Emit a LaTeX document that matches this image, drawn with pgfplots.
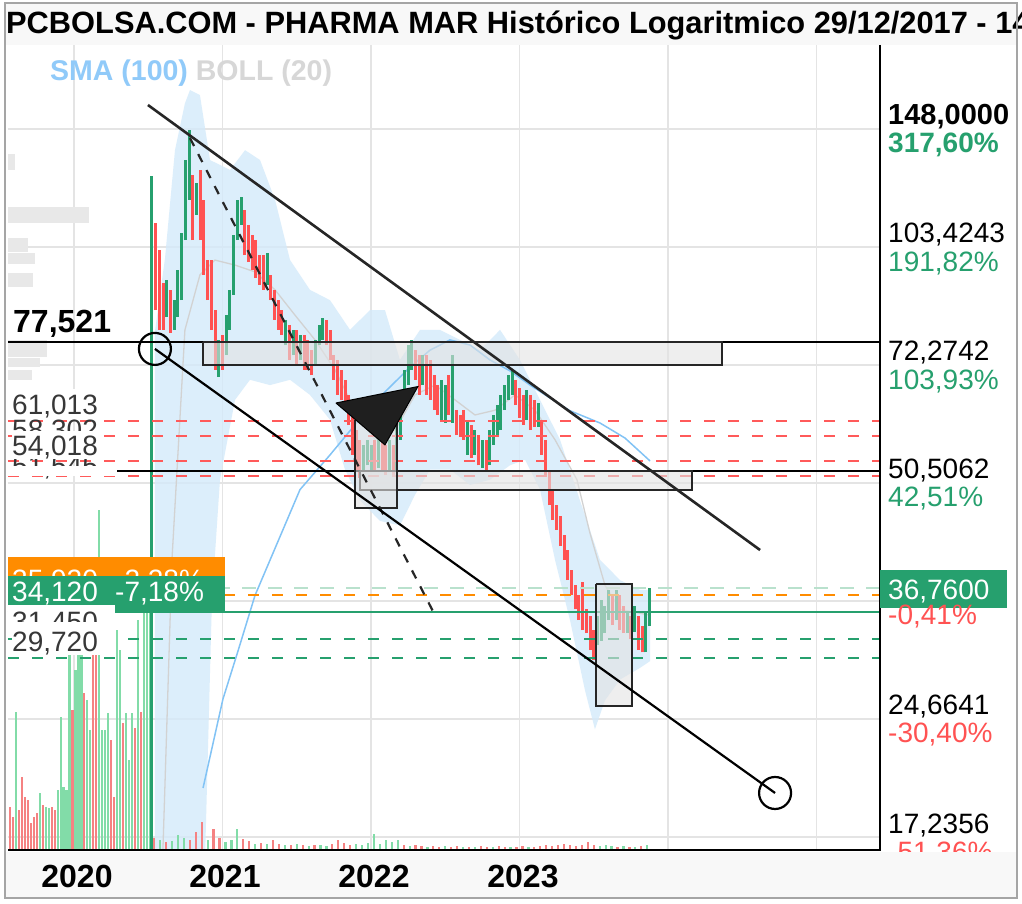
\documentclass[border=0pt]{standalone}
\usepackage{pgfplots}
\pgfplotsset{compat=1.18}
\usepackage{fontspec}
\setmainfont{Liberation Sans}
\definecolor{cg}{RGB}{38,160,110}
\definecolor{cr}{RGB}{255,82,82}
\definecolor{vg}{RGB}{130,220,168}
\definecolor{vr}{RGB}{245,130,130}
\definecolor{bandc}{RGB}{212,234,250}
\definecolor{smac}{RGB}{130,195,245}
\definecolor{midc}{RGB}{210,210,210}
\definecolor{gridc}{RGB}{228,228,228}
\definecolor{dashred}{RGB}{255,90,90}
\definecolor{orng}{RGB}{255,140,0}
\definecolor{labg}{RGB}{55,55,55}
\definecolor{profc}{RGB}{232,232,232}
\definecolor{barbg}{RGB}{248,248,248}
\definecolor{framec}{RGB}{165,165,165}
\definecolor{curg}{RGB}{185,225,205}
\definecolor{legb}{RGB}{144,202,249}
\definecolor{legg}{RGB}{215,215,215}
\newcommand{\fs}[1]{\fontsize{#1pt}{#1pt}\selectfont}
\pgfplotsset{base/.style={at={(8pt,54pt)}, anchor=south west, scale only axis,
  width=872pt, height=805pt, xmin=2019.5556, xmax=2025.4276}}
\tikzset{lab/.style={anchor=base west, inner sep=0pt, font=\fs{28}}}

\begin{document}
\begin{tikzpicture}
\path[use as bounding box] (0,0) rectangle (1022pt,904pt);
\begin{scope}[x=1pt,y=-1pt,yshift=904pt]
\fill[white] (0,0) rectangle (1022,904);
\fill[barbg] (5,3) rectangle (1017,45);
\end{scope}

% ---------- axis A: grid, profile, bands, averages
\begin{axis}[base, ymode=log, ymin=16.566, ymax=191.06,
  axis line style={draw=none}, tick style={draw=none},
  xticklabels={}, yticklabels={},
  xtick={2020,2021,2022,2023,2024,2025},
  ytick={17.2356,24.6641,35.2944,50.5062,72.2742,103.4243,148},
  grid=major, grid style={gridc, line width=1.5pt}]
% volume profile
\addplot[fill=profc, draw=none] coordinates {(2019.5556,111.2)(2020.101,111.2)(2020.101,116.8)(2019.5556,116.8)};
\addplot[fill=profc, draw=none] coordinates {(2019.5556,101.8)(2019.690,101.8)(2019.690,106.3)(2019.5556,106.3)};
\addplot[fill=profc, draw=none] coordinates {(2019.5556,98.3)(2019.737,98.3)(2019.737,101.6)(2019.5556,101.6)};
\addplot[fill=profc, draw=none] coordinates {(2019.5556,91.6)(2019.723,91.6)(2019.723,95.6)(2019.5556,95.6)};
\addplot[fill=profc, draw=none] coordinates {(2019.5556,74.0)(2019.818,74.0)(2019.818,78.0)(2019.5556,78.0)};
\addplot[fill=profc, draw=none] coordinates {(2019.5556,71.8)(2019.771,71.8)(2019.771,73.8)(2019.5556,73.8)};
\addplot[fill=profc, draw=none] coordinates {(2019.5556,69.1)(2019.717,69.1)(2019.717,71.2)(2019.5556,71.2)};
\addplot[fill=profc, draw=none] coordinates {(2019.5556,130.7)(2019.602,130.7)(2019.602,137.2)(2019.5556,137.2)};
% Bollinger band
\addplot[fill=bandc, fill opacity=0.8, draw=none] coordinates {
(2020.545,80)(2020.613,100)(2020.680,138.8)(2020.747,160)(2020.781,166.6)(2020.848,164.1)
(2020.916,134.7)(2021.051,130.7)(2021.152,138.8)(2021.253,134.7)(2021.354,119.3)(2021.455,99.4)
(2021.589,90.8)(2021.724,88.0)(2021.859,80.4)(2021.993,85.4)(2022.094,85.4)(2022.195,73.4)
(2022.330,80.4)(2022.465,80.4)(2022.599,78.0)(2022.734,75.6)(2022.869,80.4)(2023.003,73.4)
(2023.138,65.0)(2023.273,57.6)(2023.407,47.9)(2023.542,40.0)(2023.677,37.6)(2023.811,36.5)(2023.879,36.5)
(2023.879,29.4)(2023.811,28.8)(2023.677,27.8)(2023.576,26.1)(2023.508,23.9)(2023.441,26.9)
(2023.340,33.3)(2023.239,40.0)(2023.138,49.5)(2023.037,54.2)(2022.936,53.3)(2022.801,51.0)
(2022.667,50.2)(2022.532,52.6)(2022.397,52.6)(2022.296,48.7)(2022.195,44.4)(2022.061,45.0)
(2021.926,47.9)(2021.825,52.6)(2021.724,61.2)(2021.589,66.0)(2021.455,69.1)(2021.320,68.0)
(2021.185,69.1)(2021.084,65.0)(2020.983,51.0)(2020.929,35.4)(2020.882,16.0)(2020.545,16.0)};
% Bollinger middle
\addplot[midc, line width=1.3pt] coordinates {
(2020.599,16.6)(2020.660,40.1)(2020.747,80.4)(2020.848,95.0)(2020.949,99.4)(2021.084,97.9)
(2021.219,95.9)(2021.354,90.8)(2021.488,84.1)(2021.623,78.0)(2021.758,71.2)(2021.892,63.0)
(2022.027,57.6)(2022.162,59.3)(2022.296,66.0)(2022.431,68.0)(2022.566,65.0)(2022.700,62.1)
(2022.835,63.0)(2022.970,66.0)(2023.104,63.0)(2023.239,57.6)(2023.387,51.0)(2023.474,43.4)
(2023.576,37.0)(2023.677,34.4)(2023.879,33.8)};
% SMA 100
\addplot[smac, line width=1.5pt] coordinates {
(2020.869,20.0)(2021.003,26.2)(2021.104,30.3)(2021.219,35.9)(2021.367,42.0)(2021.522,49.5)
(2021.724,55.0)(2021.926,61.4)(2022.094,66.6)(2022.263,71.8)(2022.397,75.6)(2022.532,78.0)
(2022.667,76.8)(2022.801,73.4)(2022.936,71.0)(2023.071,68.0)(2023.205,65.4)(2023.340,62.9)
(2023.542,60.6)(2023.710,57.9)(2023.879,54.0)};
\end{axis}

% ---------- axis B: volume
\begin{axis}[base, ymin=0, ymax=805, hide axis]
\addplot[ycomb, vg, line width=2.2pt] coordinates {
(2019.61,138)(2019.77,57)(2019.81,43)(2019.83,42)(2019.89,60)(2019.91,133)(2019.93,63)(2019.95,60)
(2019.97,250)(2020.01,180)(2020.03,230)(2020.05,200)(2020.09,150)(2020.11,120)(2020.17,340)
(2020.19,120)(2020.21,120)(2020.23,137)(2020.29,220)(2020.31,200)(2020.35,137)(2020.37,90)
(2020.39,137)(2020.43,230)(2020.47,280)(2020.49,260)(2020.51,290)
(2020.58,10)(2020.66,9)(2020.70,15)(2020.74,12)(2020.90,10)(2021.02,8)(2021.06,10)(2021.10,21)
(2021.22,6)(2021.30,6)(2021.42,5)(2021.50,6)(2021.58,4)(2021.66,5)(2021.70,4)(2021.90,6)
(2021.94,5)(2021.98,7)(2022.02,16)(2022.06,6)(2022.10,10)(2022.14,8)(2022.18,10)(2022.26,4)
(2022.38,3)(2022.50,4)(2022.62,3)(2022.70,3)(2022.82,3)(2022.94,3)(2023.06,3)(2023.54,4)
(2023.58,5)(2023.62,4)(2023.70,4)(2023.78,3)(2023.86,5)};
\addplot[ycomb, vr, line width=2.2pt] coordinates {
(2019.57,43)(2019.59,33)(2019.63,40)(2019.65,73)(2019.67,53)(2019.69,50)(2019.71,27)(2019.73,33)
(2019.75,37)(2019.79,45)(2019.85,43)(2019.87,40)(2019.99,140)(2020.07,157)(2020.13,260)
(2020.15,200)(2020.25,110)(2020.27,53)(2020.33,127)(2020.41,122)(2020.45,138)
(2020.54,12)(2020.62,8)(2020.78,10)(2020.82,18)(2020.86,28)(2020.94,21)(2020.98,12)(2021.14,11)
(2021.18,9)(2021.26,7)(2021.34,10)(2021.38,6)(2021.46,5)(2021.54,5)(2021.62,5)(2021.74,6)
(2021.78,10)(2021.82,7)(2021.86,5)(2022.22,5)(2022.30,5)(2022.34,4)(2022.42,4)(2022.46,3)
(2022.54,3)(2022.58,4)(2022.66,3)(2022.74,4)(2022.78,3)(2022.86,4)(2022.90,3)(2022.98,3)
(2023.02,4)(2023.10,3)(2023.14,4)(2023.18,5)(2023.22,4)(2023.26,5)(2023.30,6)(2023.34,5)
(2023.38,4)(2023.42,5)(2023.46,8)(2023.50,5)(2023.66,3)(2023.74,3)(2023.82,4)};
\end{axis}

% ---------- axis C: prices and drawings
\begin{axis}[base, ymode=log, ymin=16.566, ymax=191.06, hide axis]
% green candles
\addplot[cg, line width=3pt, unbounded coords=jump] coordinates {
(2020.525,16)(2020.525,128.3)(2020.525,nan)
(2020.625,83.6)(2020.625,93.6)(2020.625,nan)
(2020.675,80.4)(2020.675,88.0)(2020.675,nan)
(2020.700,83.6)(2020.700,96.4)(2020.700,nan)
(2020.725,88.0)(2020.725,107.9)(2020.725,nan)
(2020.750,105.6)(2020.750,134.7)(2020.750,nan)
(2020.775,119.3)(2020.775,147.6)(2020.775,nan)
(2020.825,114.0)(2020.825,125.6)(2020.825,nan)
(2020.975,69.7)(2020.975,78.0)(2020.975,nan)
(2021.025,74.5)(2021.025,84.1)(2021.025,nan)
(2021.050,80.4)(2021.050,90.8)(2021.050,nan)
(2021.075,89.4)(2021.075,107.3)(2021.075,nan)
(2021.100,105.6)(2021.100,119.3)(2021.100,nan)
(2021.125,110.6)(2021.125,120.4)(2021.125,nan)
(2021.300,92.2)(2021.300,101.6)(2021.300,nan)
(2021.425,76.8)(2021.425,82.9)(2021.425,nan)
(2021.475,74.5)(2021.475,80.4)(2021.475,nan)
(2021.525,73.4)(2021.525,79.2)(2021.525,nan)
(2021.625,72.3)(2021.625,78.0)(2021.625,nan)
(2021.650,76.8)(2021.650,81.6)(2021.650,nan)
(2021.675,78.0)(2021.675,83.4)(2021.675,nan)
(2021.950,52.5)(2021.950,56.7)(2021.950,nan)
(2021.975,53.3)(2021.975,57.6)(2021.975,nan)
(2022.000,52.5)(2022.000,56.7)(2022.000,nan)
(2022.050,52.9)(2022.050,58.4)(2022.050,nan)
(2022.125,52.5)(2022.125,57.6)(2022.125,nan)
(2022.175,52.5)(2022.175,59.9)(2022.175,nan)
(2022.200,57.6)(2022.200,65.0)(2022.200,nan)
(2022.225,64.0)(2022.225,71.2)(2022.225,nan)
(2022.250,68.0)(2022.250,76.8)(2022.250,nan)
(2022.275,71.2)(2022.275,78.0)(2022.275,nan)
(2022.350,68.0)(2022.350,74.5)(2022.350,nan)
(2022.475,61.2)(2022.475,69.1)(2022.475,nan)
(2022.500,60.6)(2022.500,68.0)(2022.500,nan)
(2022.550,60.6)(2022.550,74.5)(2022.550,nan)
(2022.650,55.0)(2022.650,61.2)(2022.650,nan)
(2022.700,55.0)(2022.700,59.3)(2022.700,nan)
(2022.750,52.9)(2022.750,57.6)(2022.750,nan)
(2022.800,53.3)(2022.800,59.3)(2022.800,nan)
(2022.825,56.7)(2022.825,62.1)(2022.825,nan)
(2022.850,58.4)(2022.850,64.0)(2022.850,nan)
(2022.875,59.3)(2022.875,66.0)(2022.875,nan)
(2022.900,63.0)(2022.900,68.0)(2022.900,nan)
(2022.925,65.0)(2022.925,70.1)(2022.925,nan)
(2022.950,66.0)(2022.950,71.2)(2022.950,nan)
(2023.050,61.2)(2023.050,67.0)(2023.050,nan)
(2023.125,59.9)(2023.125,64.4)(2023.125,nan)
(2023.525,30.9)(2023.525,33.7)(2023.525,nan)
(2023.550,31.3)(2023.550,35.4)(2023.550,nan)
(2023.575,32.0)(2023.575,34.8)(2023.575,nan)
(2023.600,33.3)(2023.600,36.5)(2023.600,nan)
(2023.650,33.3)(2023.650,36.5)(2023.650,nan)
(2023.725,32.0)(2023.725,34.2)(2023.725,nan)
(2023.775,32.1)(2023.775,34.8)(2023.775,nan)
(2023.850,30.2)(2023.850,34.2)(2023.850,nan)
(2023.875,32.7)(2023.875,36.7)(2023.875,nan)};
% red candles
\addplot[cr, line width=3pt, unbounded coords=jump] coordinates {
(2020.550,85.4)(2020.550,111.2)(2020.550,nan)
(2020.575,80.4)(2020.575,102.5)(2020.575,nan)
(2020.600,80.4)(2020.600,92.7)(2020.600,nan)
(2020.650,79.7)(2020.650,90.8)(2020.650,nan)
(2020.800,105.6)(2020.800,128.7)(2020.800,nan)
(2020.850,105.6)(2020.850,130.7)(2020.850,nan)
(2020.875,95.0)(2020.875,119.3)(2020.875,nan)
(2020.900,88.0)(2020.900,99.4)(2020.900,nan)
(2020.925,80.4)(2020.925,99.4)(2020.925,nan)
(2020.950,71.2)(2020.950,85.4)(2020.950,nan)
(2021.000,71.2)(2021.000,79.2)(2021.000,nan)
(2021.150,100.9)(2021.150,115.7)(2021.150,nan)
(2021.175,98.8)(2021.175,110.6)(2021.175,nan)
(2021.200,96.4)(2021.200,107.3)(2021.200,nan)
(2021.225,94.1)(2021.225,105.6)(2021.225,nan)
(2021.250,92.2)(2021.250,100.9)(2021.250,nan)
(2021.275,90.8)(2021.275,100.9)(2021.275,nan)
(2021.325,88.0)(2021.325,95.0)(2021.325,nan)
(2021.350,82.9)(2021.350,90.8)(2021.350,nan)
(2021.375,80.4)(2021.375,88.0)(2021.375,nan)
(2021.400,79.2)(2021.400,85.4)(2021.400,nan)
(2021.450,73.4)(2021.450,81.6)(2021.450,nan)
(2021.500,72.3)(2021.500,80.4)(2021.500,nan)
(2021.550,71.2)(2021.550,79.2)(2021.550,nan)
(2021.575,71.2)(2021.575,78.0)(2021.575,nan)
(2021.600,70.1)(2021.600,75.6)(2021.600,nan)
(2021.700,76.8)(2021.700,82.9)(2021.700,nan)
(2021.725,73.4)(2021.725,80.4)(2021.725,nan)
(2021.750,69.1)(2021.750,74.5)(2021.750,nan)
(2021.775,66.0)(2021.775,73.4)(2021.775,nan)
(2021.800,65.0)(2021.800,71.2)(2021.800,nan)
(2021.825,63.0)(2021.825,69.1)(2021.825,nan)
(2021.850,60.2)(2021.850,66.0)(2021.850,nan)
(2021.875,55.0)(2021.875,62.1)(2021.875,nan)
(2021.900,52.5)(2021.900,59.3)(2021.900,nan)
(2021.925,51.3)(2021.925,57.6)(2021.925,nan)
(2022.025,52.5)(2022.025,57.6)(2022.025,nan)
(2022.075,52.5)(2022.075,57.6)(2022.075,nan)
(2022.100,51.7)(2022.100,56.7)(2022.100,nan)
(2022.150,51.7)(2022.150,56.7)(2022.150,nan)
(2022.300,69.1)(2022.300,75.6)(2022.300,nan)
(2022.325,66.0)(2022.325,74.5)(2022.325,nan)
(2022.375,66.0)(2022.375,74.5)(2022.375,nan)
(2022.400,65.0)(2022.400,73.4)(2022.400,nan)
(2022.425,63.0)(2022.425,70.1)(2022.425,nan)
(2022.450,62.1)(2022.450,68.0)(2022.450,nan)
(2022.525,62.1)(2022.525,70.1)(2022.525,nan)
(2022.575,58.4)(2022.575,63.0)(2022.575,nan)
(2022.600,58.1)(2022.600,62.1)(2022.600,nan)
(2022.625,57.6)(2022.625,63.0)(2022.625,nan)
(2022.675,54.5)(2022.675,60.2)(2022.675,nan)
(2022.725,53.3)(2022.725,58.4)(2022.725,nan)
(2022.775,52.5)(2022.775,57.6)(2022.775,nan)
(2022.975,64.0)(2022.975,69.1)(2022.975,nan)
(2023.000,61.6)(2023.000,67.4)(2023.000,nan)
(2023.025,60.2)(2023.025,66.0)(2023.025,nan)
(2023.075,59.3)(2023.075,66.0)(2023.075,nan)
(2023.100,59.9)(2023.100,65.0)(2023.100,nan)
(2023.150,55.0)(2023.150,61.2)(2023.150,nan)
(2023.175,51.7)(2023.175,57.6)(2023.175,nan)
(2023.200,47.2)(2023.200,52.5)(2023.200,nan)
(2023.225,45.1)(2023.225,49.5)(2023.225,nan)
(2023.250,43.8)(2023.250,47.2)(2023.250,nan)
(2023.275,41.7)(2023.275,45.7)(2023.275,nan)
(2023.300,40.0)(2023.300,43.1)(2023.300,nan)
(2023.325,37.6)(2023.325,41.2)(2023.325,nan)
(2023.350,35.9)(2023.350,38.8)(2023.350,nan)
(2023.375,34.4)(2023.375,37.0)(2023.375,nan)
(2023.400,33.3)(2023.400,35.9)(2023.400,nan)
(2023.425,32.3)(2023.425,37.4)(2023.425,nan)
(2023.450,32.0)(2023.450,34.4)(2023.450,nan)
(2023.475,30.4)(2023.475,33.7)(2023.475,nan)
(2023.500,29.5)(2023.500,32.3)(2023.500,nan)
(2023.625,32.8)(2023.625,35.9)(2023.625,nan)
(2023.675,32.3)(2023.675,35.9)(2023.675,nan)
(2023.700,32.0)(2023.700,34.8)(2023.700,nan)
(2023.750,31.4)(2023.750,33.7)(2023.750,nan)
(2023.800,30.4)(2023.800,33.7)(2023.800,nan)
(2023.825,30.2)(2023.825,32.7)(2023.825,nan)};
% horizontal levels
\addplot[dashred, line width=2pt, dash pattern=on 11pt off 13pt] coordinates {(2019.5556,61.013)(2025.4276,61.013)};
\addplot[dashred, line width=2pt, dash pattern=on 11pt off 13pt] coordinates {(2019.5556,58.302)(2025.4276,58.302)};
\addplot[dashred, line width=2pt, dash pattern=on 11pt off 13pt] coordinates {(2019.5556,54.018)(2025.4276,54.018)};
\addplot[dashred, line width=2pt, dash pattern=on 11pt off 13pt] coordinates {(2019.5556,51.545)(2025.4276,51.545)};
\addplot[curg, line width=2pt, dash pattern=on 14pt off 12pt] coordinates {(2019.5556,36.76)(2025.4276,36.76)};
\addplot[orng, line width=2pt, dash pattern=on 11pt off 13pt] coordinates {(2019.5556,35.92)(2025.4276,35.92)};
\addplot[cg, line width=2pt] coordinates {(2019.5556,34.12)(2025.4276,34.12)};
\addplot[cg, line width=2pt, dash pattern=on 11pt off 13pt] coordinates {(2019.5556,31.45)(2025.4276,31.45)};
\addplot[cg, line width=2pt, dash pattern=on 11pt off 13pt] coordinates {(2019.5556,29.72)(2025.4276,29.72)};
\addplot[black, line width=2.2pt] coordinates {(2019.5556,77.521)(2025.4276,77.521)};
\addplot[black, line width=2.2pt] coordinates {(2020.290,52.38)(2025.4276,52.38)};
% boxes
\addplot[fill=gray!22, fill opacity=0.6, draw=black!85, line width=2pt] coordinates {(2020.869,77.52)(2024.364,77.52)(2024.364,72.27)(2020.869,72.27)(2020.869,77.52)};
\addplot[fill=gray!22, fill opacity=0.6, draw=black!85, line width=2pt] coordinates {(2021.926,52.38)(2024.162,52.38)(2024.162,49.45)(2021.926,49.45)(2021.926,52.38)};
\addplot[fill=gray!22, fill opacity=0.6, draw=black!85, line width=2pt] coordinates {(2021.892,61.2)(2022.175,61.2)(2022.175,46.8)(2021.892,46.8)(2021.892,61.2)};
\addplot[fill=gray!22, fill opacity=0.6, draw=black!85, line width=2pt] coordinates {(2023.515,37.17)(2023.758,37.17)(2023.758,25.65)(2023.515,25.65)(2023.515,37.17)};
% trend lines
\addplot[black!85, line width=2.6pt] coordinates {(2020.498,159.2)(2024.620,41.2)};
\addplot[black!85, line width=2.2pt, dash pattern=on 9pt off 9pt] coordinates {(2020.781,144.0)(2022.431,33.8)};
\addplot[black, line width=2.2pt] coordinates {(2020.545,75.9)(2024.721,19.7)};
\addplot[only marks, mark=o, mark size=16pt, mark options={line width=2.2pt, draw=black}] coordinates {(2020.545,75.9)(2024.721,19.7)};
% triangle
\addplot[fill=black!88, draw=black, line width=1pt] coordinates {(2021.764,64.4)(2022.316,67.7)(2022.094,56.7)(2021.764,64.4)};
\end{axis}

\begin{scope}[x=1pt,y=-1pt,yshift=904pt]
\draw[black, line width=2.5pt] (880,45) -- (880,851);
\draw[black, line width=2.5pt] (8,850) -- (881,850);
% title and legend
\node[anchor=base west, inner sep=0pt, font=\bfseries\fs{30.8}] at (6,34) {PCBOLSA.COM - PHARMA MAR Histórico Logaritmico 29/12/2017 - 14/11/2023};
\node[anchor=base west, inner sep=0pt, font=\bfseries\fs{28.5}] at (50,81) {\textcolor{legb}{SMA (100)} \textcolor{legg}{BOLL (20)}};
% left labels
\node[anchor=base west, inner sep=0pt, font=\bfseries\fs{32}] at (13,333) {77,521};
\node[lab, text=labg] at (12,440) {58,302};
\node[lab, text=labg] at (12,476) {51,545};
\fill[white] (8,389) rectangle (100,419);
\node[lab, text=labg] at (12,415) {61,013};
\fill[white] (12,431) rectangle (100,459);
\node[lab, text=labg] at (12,456) {54,018};
\fill[white] (8,466) rectangle (116,476);
\fill[orng] (8,557) rectangle (225,590);
\node[lab, text=white] at (12,590) {35,920};
\node[lab, text=white] at (115,590) {-2,28\%};
\fill[cg] (8,576) rectangle (225,612);
\node[lab, text=white] at (12,602) {34,120};
\node[lab, text=white] at (115,602) {-7,18\%};
\fill[white] (8,605) rectangle (115,622);
\node[lab, text=labg] at (12,632) {31,450};
\fill[white] (12,622) rectangle (115,655);
\node[lab, text=labg] at (12,652) {29,720};
% right labels
\node[lab, font=\bfseries\fs{29}] at (888,125) {148,0000};
\node[lab, font=\bfseries\fs{28}, text=cg] at (888,153) {317,60\%};
\node[lab] at (888,243) {103,4243};
\node[lab, text=cg] at (888,272) {191,82\%};
\node[lab] at (888,361) {72,2742};
\node[lab, text=cg] at (888,390) {103,93\%};
\node[lab] at (888,479) {50,5062};
\node[lab, text=cg] at (888,507) {42,51\%};
\fill[cg] (880,570) rectangle (1007,608);
\node[lab, text=white] at (888,600) {36,7600};
\node[lab, text=cr] at (888,625) {-0,41\%};
\node[lab] at (888,715) {24,6641};
\node[lab, text=cr] at (888,743) {-30,40\%};
\node[lab] at (888,834) {17,2356};
\node[lab, text=cr] at (888,862) {-51,36\%};
% bottom bar
\fill[barbg] (5,852) rectangle (1017,897);
\node[anchor=base, inner sep=0pt, font=\bfseries\fs{32}] at (77,888) {2020};
\node[anchor=base, inner sep=0pt, font=\bfseries\fs{32}] at (225,888) {2021};
\node[anchor=base, inner sep=0pt, font=\bfseries\fs{32}] at (374,888) {2022};
\node[anchor=base, inner sep=0pt, font=\bfseries\fs{32}] at (523,888) {2023};
\draw[framec, line width=2pt] (5,3) rectangle (1017,898);
\end{scope}
\end{tikzpicture}
\end{document}
